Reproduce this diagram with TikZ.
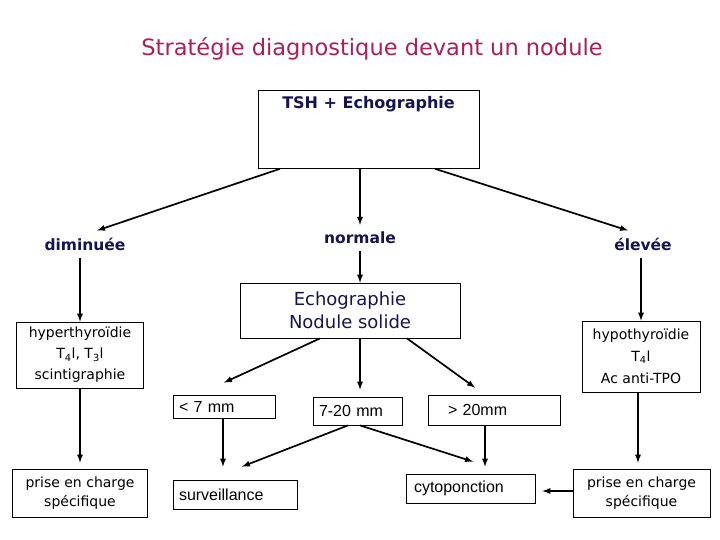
\documentclass[tikz,border=0pt]{standalone}
\usepackage{fontspec}
\setmainfont{DejaVu Sans}
\newfontfamily\arialfont{Liberation Sans}
\usepackage{xcolor}
\usepackage{tikz}
\usetikzlibrary{arrows}
\usetikzlibrary{positioning}

\definecolor{titlered}{RGB}{170,30,90}
\definecolor{navy}{RGB}{20,20,80}

\tikzset{
  box/.style={rectangle, draw=black, line width=0.8pt, align=center, inner sep=3pt},
  result/.style={font=\bfseries\fontsize{15.5}{18}\selectfont, text=navy, inner xsep=2pt, inner ysep=7pt},
  mmbox/.style={box, font=\arialfont\fontsize{16}{19}\selectfont, align=left, inner xsep=6pt},
  comic/.style={box, font=\fontsize{14}{21}\selectfont},
  link/.style={-latex, line width=1.7pt}
}

\begin{document}
\begin{tikzpicture}[x=1pt, y=-1pt]
\useasboundingbox (0,0) rectangle (720,540);
\node [font=\fontsize{22.5}{26}\selectfont, text=titlered] (titre) at (372,49) {Stratégie diagnostique devant un nodule};
\node [box, anchor=north, minimum width=221pt, text=navy, font=\bfseries\fontsize{16}{19}\selectfont, inner ysep=6pt, text height=12pt, text depth=54pt] (tsh) at (368.5,90) {TSH + Echographie};

\node [result] (dim) at (85,244) {diminuée};
\node [result] (norm) at (360,238) {normale};
\node [result] (elev) at (643,244) {élevée};

\node [box, minimum width=220pt, minimum height=55pt, text=navy, font=\fontsize{18}{23}\selectfont] (echo) at (350,310.5) {Echographie\\Nodule solide};
\node [comic, minimum width=127pt, minimum height=66pt] (hyper) at (80,355) {hyperthyroïdie\\T\textsubscript{4}l, T\textsubscript{3}l\\scintigraphie};
\node [comic, minimum width=118pt, minimum height=71pt, font=\fontsize{14}{22}\selectfont] (hypo) at (641,356.5) {hypothyroïdie\\T\textsubscript{4}l\\Ac anti-TPO};

\node [mmbox, text width=90pt, minimum height=23pt] (lt7) at (224,406.5) {< 7 mm};
\node [mmbox, text width=77pt, minimum height=28pt] (mid) at (357.5,411) {7-20 mm};
\node [mmbox, text width=120pt, minimum height=30pt] (gt20) at (494,410) {\hspace*{14pt}> 20mm};

\node [mmbox, text width=112pt, minimum height=29pt] (surv) at (235,494.5) {surveillance};
\node [mmbox, text width=113pt, minimum height=29pt, inner xsep=8pt] (cyto) at (470.5,488.5) {cytoponction};
\node [comic, minimum width=135pt, minimum height=48pt, font=\fontsize{14}{19}\selectfont] (pecL) at (80,493) {prise en charge\\spécifique};
\node [comic, minimum width=137pt, minimum height=48pt, font=\fontsize{14}{19}\selectfont] (pecR) at (641.5,493) {prise en charge\\spécifique};

% premier niveau
\draw [link] ([xshift=-88.5pt]tsh.south) to ([xshift=12pt]dim.north);
\draw [link] ([xshift=-8.5pt]tsh.south) to (norm.north);
\draw [link] ([xshift=66.5pt]tsh.south) to ([xshift=-15pt]elev.north);
\draw [link] (dim.south -| hyper.north) to (hyper.north);
\draw [link] (norm.south) to (norm.south |- echo.north);
\draw [link] (elev.south -| hypo.north) to (hypo.north);
% taille du nodule
\draw [link] ([xshift=-30pt]echo.south) to ([yshift=12pt]lt7.north);
\draw [link] ([xshift=10pt]echo.south) to ([xshift=2.5pt,yshift=7pt]mid.north);
\draw [link] ([xshift=57pt]echo.south) to ([xshift=-19pt,yshift=7pt]gt20.north);
\draw [link] ([xshift=-1pt]lt7.south) to ([xshift=-12pt,yshift=13pt]surv.north);
\draw [link] ([xshift=-9.5pt]mid.south) to ([xshift=7pt,yshift=13pt]surv.north);
\draw [link] ([xshift=2.5pt]mid.south) to ([xshift=2.5pt,yshift=12pt]cyto.north);
\draw [link] ([xshift=-9pt]gt20.south) to ([xshift=14.5pt,yshift=7pt]cyto.north);
% prise en charge
\draw [link] (hyper.south) to ([yshift=6pt]pecL.north);
\draw [link] ([xshift=-3pt]hypo.south) to ([xshift=-3.5pt,yshift=6pt]pecR.north);
\draw [link] ([yshift=2pt]pecR.west) to ([xshift=7pt,yshift=-2.5pt]cyto.east);
\end{tikzpicture}
\end{document}
